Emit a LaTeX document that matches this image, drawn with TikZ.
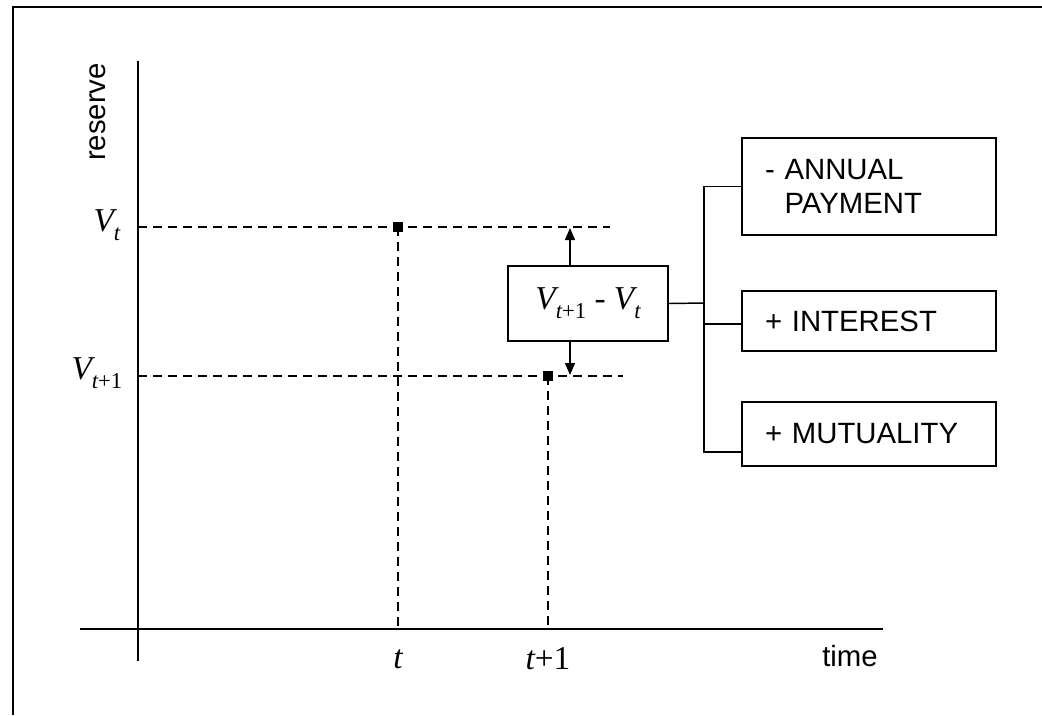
\documentclass[tikz,border=0pt]{standalone}
\usepackage{fontspec}
\setmainfont{Liberation Sans}
\newfontfamily\serifmath{Liberation Serif}
\usetikzlibrary{arrows.meta}
% italic variable and lowered subscript in the serif face
\newcommand{\mvar}[1]{{\itshape #1}}
\newcommand{\subsc}[1]{\raisebox{-0.26em}{\fontsize{17}{17}\selectfont #1}}
\begin{document}
\begin{tikzpicture}[x=0.75pt,y=-0.75pt,
  frame/.style={line width=1.5pt},
  axis/.style={line width=1.5pt},
  guide/.style={line width=1pt,dash pattern=on 6.75pt off 4.5pt},
  conn/.style={line width=1.1pt},
  arr/.style={line width=1.1pt,-{Triangle[length=9pt,width=7.5pt]}},
  dot/.style={fill=black,minimum size=7.5pt,inner sep=0pt},
  sanslab/.style={font=\fontsize{22}{25.5}\selectfont},
  mathlab/.style={font=\serifmath\fontsize{25}{28}\selectfont},
  box/.style={draw,line width=1.2pt,minimum width=190.5pt,text width=156pt,
    inner xsep=17.25pt,align=left,sanslab}]
\useasboundingbox (0,0) rectangle (1042,715);

% outer frame (open on the right and bottom)
\draw[frame] (13,715) -- (13,7) -- (1042,7);

% axes
\coordinate (ytop) at (138,61);
\coordinate (ybot) at (138,661);
\coordinate (xl) at (80,629);
\coordinate (xr) at (883,629);
\draw[axis] (ytop) -- (ybot);
\draw[axis] (xl) -- (xr);
\node[sanslab,rotate=90] (reserve) at (98,112) {reserve};
\node[sanslab] (time) at (850,656) {time};

% reserve levels and time points
\coordinate (yt) at (138,227);
\coordinate (yt1) at (138,376);
\coordinate (et) at (610,227);
\coordinate (et1) at (623,376);
\node[dot] (pt) at (398,227) {};
\node[dot] (pt1) at (548,376) {};
\coordinate (bt) at (398,629);
\coordinate (bt1) at (548,629);
\draw[guide] (yt) -- (et);
\draw[guide] (yt1) -- (et1);
\draw[guide] (pt.center) -- (bt);
\draw[guide] (pt1.center) -- (bt1);

\node[mathlab,anchor=east] (lvt) at (125,225) {\mvar{V}\subsc{\mvar{t}}};
\node[mathlab,anchor=east] (lvt1) at (127,373) {\mvar{V}\subsc{\mvar{t}+1}};
\node[mathlab] (lt) at (398,659) {\mvar{t}};
\node[mathlab] (lt1) at (548,659) {\mvar{t}+1};

% change in reserve
\node[draw,line width=1.2pt,minimum width=120pt,minimum height=56.25pt,mathlab]
  (diff) at (588,303.5) {\mvar{V}\subsc{\mvar{t}+1} - \mvar{V}\subsc{\mvar{t}}};
\coordinate (up) at (570,228);
\coordinate (dn) at (570,375);
\draw[arr] (diff.north -| up) -- (up);
\draw[arr] (diff.south -| dn) -- (dn);

% components
\node[box,minimum height=72.75pt] (ann) at (869,186.5)
  {- ANNUAL\\\hphantom{- }PAYMENT};
\node[box,minimum height=45pt] (int) at (869,321) {+ INTEREST};
\node[box,minimum height=48pt] (mut) at (869,434) {+ MUTUALITY};

\coordinate (jn) at (704,303);
\coordinate (jt) at (704,186.5);
\coordinate (jm) at (704,324);
\coordinate (jb) at (704,452);
\draw[conn] (diff.east) -- (jn);
\draw[conn] (ann.west) -- (jt) -- (jb) -- (jb -| mut.west);
\draw[conn] (jm) -- (jm -| int.west);
\end{tikzpicture}
\end{document}
